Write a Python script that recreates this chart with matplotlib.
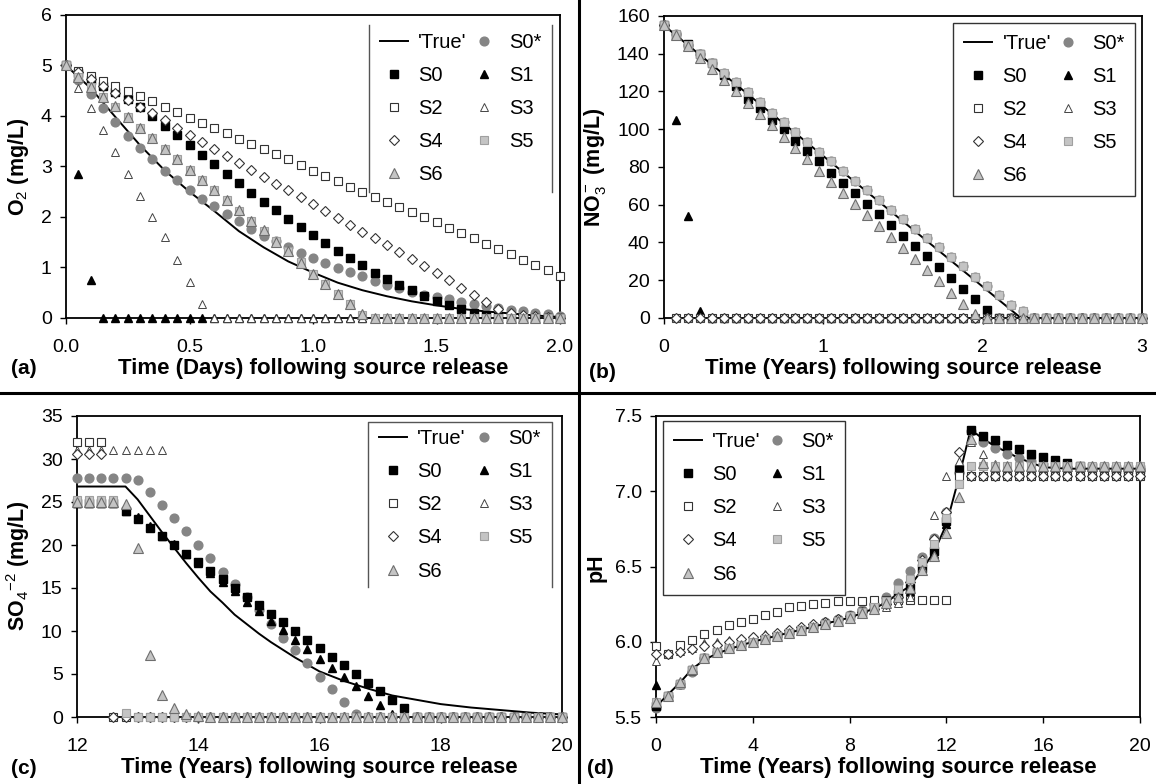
import numpy as np
import matplotlib
matplotlib.use('Agg')
import matplotlib.pyplot as plt
from matplotlib.lines import Line2D

plt.rcParams['font.family'] = ['Liberation Sans', 'DejaVu Sans']
plt.rcParams['mathtext.fontset'] = 'custom'
plt.rcParams['mathtext.rm'] = 'Liberation Sans'
plt.rcParams['mathtext.it'] = 'Liberation Sans:italic'
plt.rcParams['mathtext.bf'] = 'Liberation Sans:bold'

# ---------------- data ----------------
# (a) O2, days
ta = np.arange(41) * 0.05
ta_true = [0.0, 0.1, 0.2, 0.3, 0.4, 0.5, 0.6, 0.7, 0.8, 0.9, 1.0,
           1.1, 1.2, 1.3, 1.4, 1.5, 1.6, 1.7, 1.8, 1.9, 2.0]
a_true = [5.0, 4.55, 3.98, 3.42, 2.92, 2.5, 2.12, 1.72, 1.4, 1.12, 0.9,
          0.7, 0.55, 0.43, 0.33, 0.25, 0.18, 0.13, 0.09, 0.05, 0.02]
a_s0star = [5.0, 4.72, 4.43, 4.15, 3.88, 3.61, 3.36, 3.14, 2.91, 2.73, 2.53,
            2.36, 2.21, 2.05, 1.92, 1.76, 1.63, 1.52, 1.40, 1.29, 1.19,
            1.08, 0.99, 0.91, 0.83, 0.74, 0.66, 0.59, 0.51, 0.45, 0.41,
            0.37, 0.32, 0.27, 0.23, 0.19, 0.16, 0.13, 0.10, 0.07, 0.04]
a_s0 = [5.0, 4.85, 4.72, 4.6, 4.48, 4.34, 4.18, 4.0, 3.8, 3.62, 3.43,
        3.23, 3.05, 2.85, 2.67, 2.48, 2.3, 2.13, 1.96, 1.8, 1.65,
        1.49, 1.33, 1.18, 1.04, 0.9, 0.78, 0.66, 0.55, 0.44, 0.34,
        0.25, 0.17, 0.1, 0.05, 0.02, 0, 0, 0, 0, 0]
a_s1 = [5.0, 2.85, 0.75] + [0] * 38
a_s2 = [5.0, 4.9, 4.8, 4.7, 4.6, 4.5, 4.4, 4.29, 4.18, 4.08, 3.97,
        3.87, 3.76, 3.66, 3.55, 3.45, 3.34, 3.24, 3.14, 3.03, 2.92,
        2.82, 2.71, 2.6, 2.5, 2.4, 2.3, 2.2, 2.1, 2.0, 1.9,
        1.79, 1.68, 1.58, 1.47, 1.37, 1.26, 1.15, 1.05, 0.95, 0.84]
a_s3 = [5.0, 4.55, 4.15, 3.72, 3.28, 2.85, 2.42, 2.0, 1.6, 1.15, 0.72, 0.28] + [0] * 29
a_s4 = [5.0, 4.88, 4.73, 4.6, 4.45, 4.32, 4.18, 4.05, 3.92, 3.77, 3.63,
        3.48, 3.34, 3.2, 3.07, 2.94, 2.8, 2.66, 2.53, 2.4, 2.26,
        2.12, 1.98, 1.84, 1.71, 1.58, 1.44, 1.3, 1.16, 1.03, 0.89,
        0.75, 0.6, 0.46, 0.32, 0.18, 0.1, 0.06, 0.04, 0.02, 0.0]
a_s5 = [5.0, 4.78, 4.57, 4.37, 4.18, 3.98, 3.77, 3.56, 3.35, 3.15, 2.94,
        2.73, 2.53, 2.33, 2.12, 1.92, 1.72, 1.52, 1.32, 1.1, 0.88,
        0.68, 0.47, 0.27, 0.05] + [0] * 16
a_s6 = [5.0, 4.78, 4.57, 4.37, 4.2, 3.98, 3.77, 3.56, 3.35, 3.15, 2.94,
        2.73, 2.53, 2.33, 2.13, 1.92, 1.74, 1.5, 1.32, 1.09, 0.88,
        0.68, 0.48, 0.28, 0.07] + [0] * 16

# (b) NO3, years
tb = np.arange(41) * 0.075
tb_true = [0.0, 2.24, 3.0]
b_true = [155, 0, 0]
b_s5 = [155, 150.5, 144.8, 139.7, 135, 130, 125, 119.8, 114.5, 108.7, 104,
        98.7, 93.4, 88.1, 83.2, 77.9, 72.8, 67.8, 62.6, 57.3, 52.5,
        47, 42.3, 37.7, 32.2, 27.3, 21.7, 17, 12, 7, 3.5] + [0] * 10
b_s0star = list(b_s5)
b_s0 = [155, 150, 145, 140, 135, 129, 123, 116, 111, 105, 100,
        94, 88.6, 83, 77, 71.5, 66, 60.5, 55, 49.3, 43.7,
        38.4, 32.6, 27, 21, 15.5, 10, 4.4] + [0] * 13
b_s6 = [155, 150, 144, 138, 132, 126, 120, 114, 108, 102, 96,
        90, 84, 78, 72, 66, 60.5, 54.5, 48.5, 43, 37,
        31, 25.5, 19.5, 13.5, 7.5, 2] + [0] * 14
b_s1 = [155, 105, 54, 3.5] + [0] * 37
b_s2 = [155] + [0] * 40
b_s3 = [155] + [0] * 40
b_s4 = [155] + [0] * 40

# (c) SO4, years
tc = 12 + np.arange(41) * 0.2
tc_true = [12.0, 12.8, 13.0, 13.2, 13.4, 13.6, 13.8, 14.0, 14.2, 14.4, 14.6, 14.8,
           15.0, 15.2, 15.4, 15.6, 15.8, 16.0, 16.4, 16.8, 17.2, 17.6, 18.0,
           18.5, 19.0, 19.5, 20.0]
c_true = [26.8, 26.8, 25.3, 23.4, 21.5, 19.7, 17.9, 16.2, 14.6, 13.3, 11.9, 10.8,
          9.7, 8.7, 7.8, 6.9, 6.1, 5.3, 4.2, 3.3, 2.5, 2.0, 1.5,
          1.1, 0.8, 0.5, 0.3]
c_s0star = [27.8, 27.8, 27.8, 27.8, 27.8, 27.6, 26.2, 24.7, 23.1, 21.6, 20.0,
            18.5, 16.9, 15.5, 14.0, 12.4, 10.8, 9.2, 7.8, 6.3, 4.7,
            3.2, 1.7, 0.3] + [0] * 17
c_s0 = [24.9, 24.9, 24.9, 24.9, 24.0, 23.0, 22.0, 21.0, 20.0, 19.0, 18.0,
        17.0, 16.0, 15.0, 14.0, 13.0, 12.0, 11.0, 10.0, 9.0, 8.0,
        7.0, 6.0, 5.0, 4.0, 3.0, 2.0, 1.0] + [0] * 13
c_s1 = [24.9, 24.9, 24.9, 24.9, 24.0, 23.3, 22.2, 21.1, 20.1, 18.9, 17.9,
        16.8, 15.7, 14.6, 13.4, 12.3, 11.2, 10.1, 9.0, 7.9, 6.8,
        5.7, 4.6, 3.6, 2.5, 1.4, 0.4] + [0] * 14
c_s2 = [32.0, 32.0, 32.0] + [0] * 38
c_s3 = [31.1] * 8 + [0] * 33
c_s4 = [30.6, 30.6, 30.6] + [0] * 38
c_s5 = [25.2, 25.2, 25.2, 25.2, 0.5] + [0] * 36
c_s6 = [25.0, 25.0, 25.0, 25.0, 24.8, 19.6, 7.2, 2.6, 1.0, 0.4, 0.1] + [0] * 30

# (d) pH, years
td = np.arange(41) * 0.5
td_true = [0, 0.5, 1, 1.5, 2, 2.5, 3, 4, 5, 6, 7, 8, 9, 9.5, 10, 10.5, 11,
           11.5, 12, 12.5, 13, 13.5, 14, 14.5, 15, 15.5, 16, 17, 18, 20]
d_true = [5.57, 5.65, 5.73, 5.82, 5.88, 5.92, 5.95, 6.0, 6.04, 6.08, 6.12,
          6.16, 6.22, 6.26, 6.32, 6.37, 6.48, 6.6, 6.78, 7.08, 7.41, 7.35,
          7.3, 7.26, 7.22, 7.19, 7.16, 7.15, 7.15, 7.15]
d_s0 = [5.57, 5.64, 5.72, 5.81, 5.89, 5.93, 5.96, 5.98, 6.0, 6.02, 6.04,
        6.06, 6.08, 6.1, 6.12, 6.14, 6.17, 6.2, 6.23, 6.27, 6.32,
        6.36, 6.49, 6.6, 6.8, 7.15, 7.41, 7.37, 7.34, 7.31, 7.28,
        7.25, 7.23, 7.21, 7.19, 7.17, 7.16, 7.16, 7.15, 7.15, 7.15]
d_s0star = [5.56, 5.64, 5.72, 5.8, 5.89, 5.93, 5.96, 5.98, 6.0, 6.02, 6.04,
            6.06, 6.08, 6.1, 6.13, 6.15, 6.18, 6.21, 6.25, 6.3, 6.39,
            6.47, 6.56, 6.69, 6.86, 7.12, 7.4, 7.33, 7.29, 7.25, 7.22,
            7.2, 7.18, 7.17, 7.16, 7.16, 7.15, 7.15, 7.15, 7.15, 7.15]
d_s1 = [5.71, 5.64, 5.72, 5.81, 5.89, 5.93, 5.96, 5.98, 6.0, 6.02, 6.04,
        6.06, 6.08, 6.1, 6.12, 6.14, 6.17, 6.2, 6.23, 6.27, 6.32,
        6.34, 6.49, 6.58, 6.78, 7.15, 7.41, 7.37, 7.34, 7.31, 7.28,
        7.25, 7.23, 7.21, 7.19, 7.17, 7.16, 7.16, 7.15, 7.15, 7.15]
d_s2 = [5.97, 5.92, 5.98, 6.01, 6.05, 6.08, 6.11, 6.13, 6.15, 6.18, 6.2,
        6.23, 6.24, 6.25, 6.26, 6.27, 6.27, 6.27, 6.28, 6.28, 6.28,
        6.28, 6.28, 6.28, 6.28] + [7.1] * 16
d_s3 = [5.87, 5.92, 5.94, 5.96, 5.99, 6.0, 6.01, 6.02, 6.03, 6.05, 6.06,
        6.08, 6.1, 6.12, 6.14, 6.16, 6.18, 6.2, 6.21, 6.23, 6.26,
        6.3, 6.5, 6.84, 7.1, 7.2, 7.33, 7.25, 7.18] + [7.17] * 12
d_s4 = [5.92, 5.92, 5.93, 5.95, 5.97, 5.98, 6.0, 6.02, 6.03, 6.04, 6.06,
        6.08, 6.1, 6.12, 6.13, 6.15, 6.17, 6.2, 6.22, 6.25, 6.3,
        6.4, 6.54, 6.68, 6.86, 7.26] + [7.1] * 15
d_s5 = [5.6, 5.64, 5.72, 5.81, 5.89, 5.93, 5.96, 5.98, 6.0, 6.02, 6.04,
        6.06, 6.08, 6.1, 6.12, 6.14, 6.17, 6.2, 6.23, 6.27, 6.35,
        6.42, 6.53, 6.65, 6.82, 7.05, 7.17] + [7.17] * 14
d_s6 = [5.6, 5.64, 5.73, 5.82, 5.89, 5.93, 5.96, 5.98, 6.0, 6.02, 6.04,
        6.06, 6.08, 6.1, 6.12, 6.14, 6.16, 6.19, 6.22, 6.26, 6.3,
        6.36, 6.48, 6.57, 6.72, 6.96, 7.35, 7.19] + [7.17] * 13

names = ['S0*', 'S0', 'S1', 'S2', 'S3', 'S4', 'S5', 'S6']

# marker styles per scenario
styles = {
    'S0*': dict(marker='o', mfc='#858585', mec='#858585', ms=6.3),
    'S0': dict(marker='s', mfc='black', mec='black', ms=5.6),
    'S1': dict(marker='^', mfc='black', mec='black', ms=6.3),
    'S2': dict(marker='s', mfc='white', mec='#333333', ms=5.6, mew=0.8),
    'S3': dict(marker='^', mfc='white', mec='#444444', ms=6.3, mew=0.7),
    'S4': dict(marker='D', mfc='white', mec='#333333', ms=5.2, mew=0.8),
    'S5': dict(marker='s', mfc='#c4c4c4', mec='#a0a0a0', ms=5.6, mew=0.8),
    'S6': dict(marker='^', mfc='#c4c4c4', mec='#6e6e6e', ms=6.6, mew=0.8),
}

W, H = 1156.0, 784.0
fig = plt.figure(figsize=(11.56, 7.84), dpi=100)


def axes_px(left, right, top, bottom):
    return fig.add_axes([left / W, 1 - bottom / H, (right - left) / W, (bottom - top) / H])


def draw_panel(ax, t, series, t_true, v_true):
    ax.plot(t_true, v_true, color='black', lw=1.4, label="'True'", zorder=3)
    for nm, vals in zip(names, series):
        ax.plot(t, vals, ls='none', label=nm, zorder=4, clip_on=False, **styles[nm])
    ax.tick_params(direction='out', length=4.3, width=1, labelsize=14)
    ax.tick_params(axis='x', pad=10.5)
    ax.tick_params(axis='y', pad=6)
    for s in ax.spines.values():
        s.set_linewidth(1.3)


def add_legend(ax, bbox, frame):
    h, l = ax.get_legend_handles_labels()
    order = [0, 2, 4, 6, 8, 1, 3, 5, 7]
    leg = ax.legend([h[i] for i in order], [l[i] for i in order], ncol=2,
                    loc='upper left', bbox_to_anchor=bbox, mode='expand',
                    fontsize=14.5, frameon=frame, fancybox=False,
                    handlelength=1.4, handletextpad=0.5, columnspacing=1.0,
                    labelspacing=0.7, borderpad=0.55, borderaxespad=0)
    if frame:
        leg.get_frame().set_edgecolor('black')
        leg.get_frame().set_linewidth(1.0)
    return leg


def ylab(x, y, s):
    fig.text(x / W, 1 - y / H, s, rotation=90, ha='center', va='center',
             fontsize=15.5, fontweight='bold')


xlab_kw = dict(fontsize=16, fontweight='bold', labelpad=1.5)

# (a)
ax = axes_px(66, 560, 15, 318)
draw_panel(ax, ta, [a_s0star, a_s0, a_s1, a_s2, a_s3, a_s4, a_s5, a_s6], ta_true, a_true)
ax.set_xlim(0, 2.0)
ax.set_ylim(0, 6)
ax.set_xticks([0, 0.5, 1.0, 1.5, 2.0])
ax.set_xticklabels(['0.0', '0.5', '1.0', '1.5', '2.0'])
ax.set_yticks(range(0, 7))
ax.set_xlabel('Time (Days) following source release', **xlab_kw)
ylab(18.5, 167, 'O$_2$ (mg/L)')
add_legend(ax, (0.613, 0.40, 0.371, 0.577), False)
for xx in (0.613, 0.984):
    ax.plot([xx, xx], [0.416, 0.967], color='#555555', lw=1, transform=ax.transAxes)

# (b)
ax = axes_px(664, 1142, 16, 318)
draw_panel(ax, tb, [b_s0star, b_s0, b_s1, b_s2, b_s3, b_s4, b_s5, b_s6], tb_true, b_true)
ax.set_xlim(0, 3)
ax.set_ylim(0, 160)
ax.set_xticks([0, 1, 2, 3])
ax.set_yticks(range(0, 161, 20))
ax.set_xlabel('Time (Years) following source release', **xlab_kw)
ylab(595, 167, 'NO$_3^-$ (mg/L)')
add_legend(ax, (0.605, 0.43, 0.381, 0.547), True)

# (c)
ax = axes_px(77, 562, 416, 717)
draw_panel(ax, tc, [c_s0star, c_s0, c_s1, c_s2, c_s3, c_s4, c_s5, c_s6], tc_true, c_true)
ax.set_xlim(12, 20)
ax.set_ylim(0, 35)
ax.set_xticks(range(12, 21, 2))
ax.set_yticks(range(0, 36, 5))
ax.set_xlabel('Time (Years) following source release', **xlab_kw)
ylab(18.5, 566, 'SO$_4$$^{-2}$ (mg/L)')
add_legend(ax, (0.6, 0.43, 0.379, 0.563), False)
ax.plot([0.6, 0.6, 0.979, 0.979], [0.432, 0.98, 0.98, 0.432], color='#555555', lw=1,
        transform=ax.transAxes)

# (d)
ax = axes_px(656, 1140, 416, 717)
draw_panel(ax, td, [d_s0star, d_s0, d_s1, d_s2, d_s3, d_s4, d_s5, d_s6], td_true, d_true)
ax.set_xlim(0, 20)
ax.set_ylim(5.5, 7.5)
ax.set_xticks(range(0, 21, 4))
ax.set_yticks([5.5, 6.0, 6.5, 7.0, 7.5])
ax.set_yticklabels(['5.5', '6.0', '6.5', '7.0', '7.5'])
ax.set_xlabel('Time (Years) following source release', **xlab_kw)
ylab(596, 568, 'pH')
add_legend(ax, (0.0145, 0.435, 0.376, 0.548), True)

# panel letters
for x, y, s in [(11, 369, '(a)'), (589, 372, '(b)'), (11, 768, '(c)'), (587, 768, '(d)')]:
    fig.text(x / W, 1 - y / H, s, fontsize=15, fontweight='bold', va='center', ha='left')

# dividing lines between panels
fig.add_artist(Line2D([579 / W, 579 / W], [0, 1], color='black', lw=2.2))
fig.add_artist(Line2D([0, 1], [1 - 393 / H, 1 - 393 / H], color='black', lw=2.2))

fig.savefig('out.png', dpi=100)
